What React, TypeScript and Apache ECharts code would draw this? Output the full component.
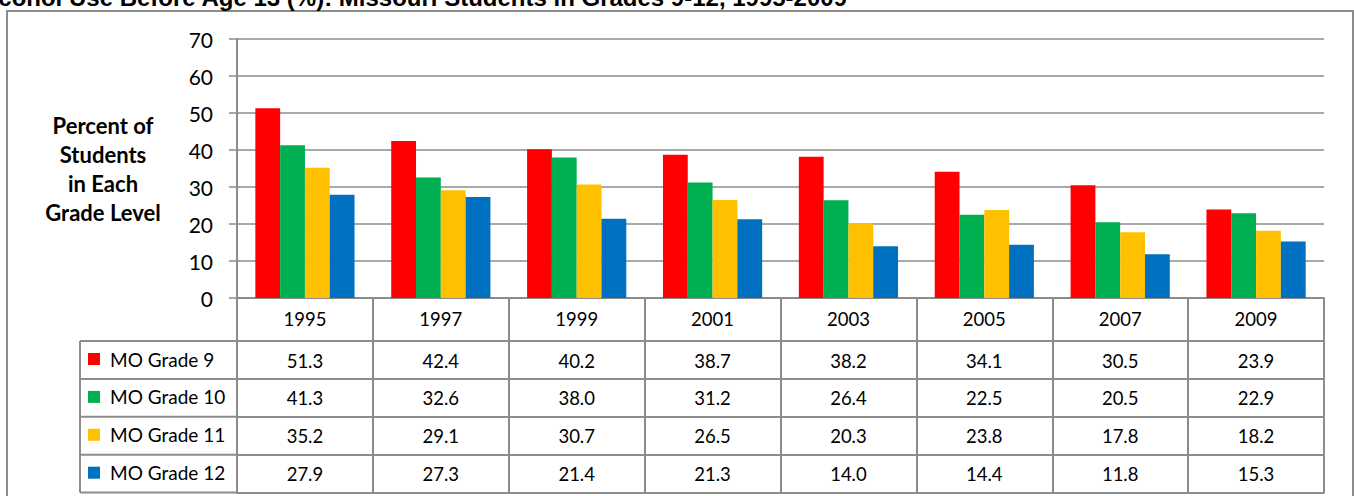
import React, { useEffect, useRef } from "react";
import * as echarts from "echarts";

const years = ["1995", "1997", "1999", "2001", "2003", "2005", "2007", "2009"];
const grade9 = [51.3, 42.4, 40.2, 38.7, 38.2, 34.1, 30.5, 23.9];
const grade10 = [41.3, 32.6, 38.0, 31.2, 26.4, 22.5, 20.5, 22.9];
const grade11 = [35.2, 29.1, 30.7, 26.5, 20.3, 23.8, 17.8, 18.2];
const grade12 = [27.9, 27.3, 21.4, 21.3, 14.0, 14.4, 11.8, 15.3];
const seriesNames = ["MO Grade 9", "MO Grade 10", "MO Grade 11", "MO Grade 12"];
const seriesColors = ["#FF0000", "#00B050", "#FFC000", "#0070C0"];
const yTicks = { min: 0, max: 70, interval: 10 };
const titleText = "Alcohol Use Before Age 13 (%): Missouri Students in Grades 9-12, 1995-2009";
const yName = "Percent of\nStudents\nin Each\nGrade Level";

const W = 1354;
const H = 496;
const GRID_LEFT = 237;
const GRID_RIGHT = 1324;
const GRID_TOP = 39;
const GRID_BOTTOM = 298;
const HEADER_H = 43;
const ROW_H = 37.9;
const LEGEND_LEFT = 80;
const LINE = "#8c8c8c";
const FONT = "Lato, 'Open Sans', sans-serif";

export default function App() {
  const ref = useRef<HTMLDivElement>(null);
  useEffect(() => {
    document.body.style.margin = "0";
    const chart = echarts.init(ref.current!, null, { renderer: "svg" });
    const allSeries = [grade9, grade10, grade11, grade12];

    const rowAxes = allSeries.map((vals, i) => ({
      type: "category" as const,
      gridIndex: 0,
      position: "bottom" as const,
      offset: HEADER_H + ROW_H * i,
      data: vals.map((v) => v.toFixed(1)),
      boundaryGap: true,
      axisLine: { show: true, lineStyle: { color: LINE, width: 2 } },
      axisTick: { show: true, length: ROW_H, interval: 0, lineStyle: { color: LINE, width: 2 } },
      axisLabel: { show: true, interval: 0, margin: 10, color: "#000", fontFamily: FONT, fontSize: 18.5 },
      splitLine: { show: false },
    }));

    const legendLines: any[] = [];
    for (let i = 0; i <= allSeries.length; i++) {
      const y = GRID_BOTTOM + HEADER_H + ROW_H * i;
      legendLines.push({
        type: "line",
        shape: { x1: LEGEND_LEFT, y1: y, x2: GRID_LEFT, y2: y },
        style: { stroke: LINE, lineWidth: 2 },
      });
    }
    legendLines.push({
      type: "line",
      shape: {
        x1: LEGEND_LEFT,
        y1: GRID_BOTTOM + HEADER_H,
        x2: LEGEND_LEFT,
        y2: GRID_BOTTOM + HEADER_H + ROW_H * allSeries.length,
      },
      style: { stroke: LINE, lineWidth: 2 },
    });

    chart.setOption({
      animation: false,
      grid: {
        left: GRID_LEFT,
        right: W - GRID_RIGHT,
        top: GRID_TOP,
        bottom: H - GRID_BOTTOM,
        containLabel: false,
        outerBoundsMode: "none",
      },
      legend: {
        orient: "vertical",
        left: 88,
        top: GRID_BOTTOM + HEADER_H + 8,
        padding: 0,
        itemWidth: 12,
        itemHeight: 12,
        itemGap: ROW_H - 20,
        icon: "rect",
        selectedMode: false,
        data: seriesNames,
        textStyle: { color: "#000", fontFamily: FONT, fontSize: 19, lineHeight: 20, padding: [0, 0, 0, 5] },
      },
      xAxis: [
        {
          type: "category",
          data: years,
          position: "bottom",
          boundaryGap: true,
          axisLine: { show: true, lineStyle: { color: LINE, width: 2 } },
          axisTick: { show: true, length: HEADER_H, interval: 0, lineStyle: { color: LINE, width: 2 } },
          axisLabel: { interval: 0, margin: 11, color: "#000", fontFamily: FONT, fontSize: 18.5 },
        },
        ...rowAxes,
        {
          type: "category",
          gridIndex: 0,
          position: "bottom",
          offset: HEADER_H + ROW_H * allSeries.length,
          data: years,
          axisLine: { show: true, lineStyle: { color: LINE, width: 2 } },
          axisTick: { show: false },
          axisLabel: { show: false },
        },
      ],
      yAxis: {
        type: "value",
        min: yTicks.min,
        max: yTicks.max,
        interval: yTicks.interval,
        name: yName,
        nameLocation: "middle",
        nameRotate: 0,
        nameGap: 134,
        nameTextStyle: {
          color: "#000",
          fontFamily: FONT,
          fontWeight: "bold",
          fontSize: 22,
          lineHeight: 29,
          align: "center",
        },
        axisLine: { show: true, lineStyle: { color: LINE, width: 2 } },
        axisTick: { show: true, length: 8, lineStyle: { color: LINE, width: 1.5 } },
        axisLabel: { margin: 24, color: "#000", fontFamily: FONT, fontSize: 21 },
        splitLine: { show: true, lineStyle: { color: LINE, width: 1.5 } },
      },
      series: allSeries.map((vals, i) => ({
        type: "bar",
        name: seriesNames[i],
        data: vals,
        xAxisIndex: 0,
        barGap: "0%",
        barCategoryGap: "27%",
        itemStyle: { color: seriesColors[i] },
      })),
      graphic: [
        {
          type: "rect",
          shape: { x: 7, y: 11, width: 1346, height: 600 },
          style: { fill: "none", stroke: LINE, lineWidth: 2 },
          silent: true,
        },
        {
          type: "text",
          x: 847,
          y: -3,
          style: {
            text: titleText,
            fill: "#000",
            font: "bold 24px 'Liberation Sans', Arial, sans-serif",
            align: "right",
            verticalAlign: "middle",
          },
        },
        ...legendLines,
      ],
    });
    return () => chart.dispose();
  }, []);
  return <div ref={ref} style={{ width: W, height: H }} />;
}
